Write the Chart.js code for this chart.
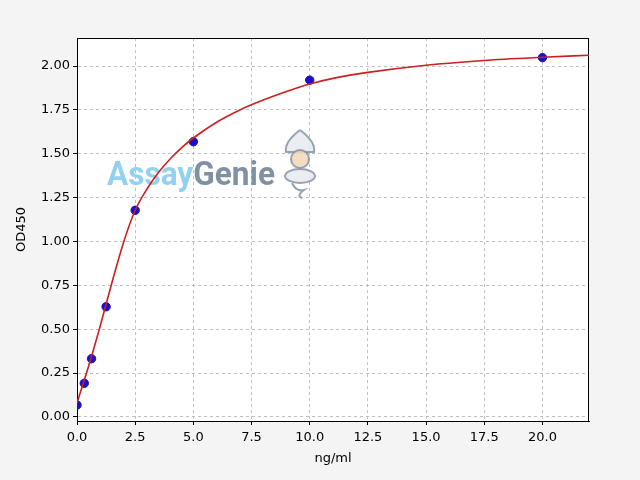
<!DOCTYPE html>
<html>
<head>
<meta charset="utf-8">
<script src="https://cdn.jsdelivr.net/npm/chart.js@4.4.1/dist/chart.umd.min.js"></script>
<style>
  html, body { margin: 0; padding: 0; background: #f4f4f4; }
  #wrap { width: 640px; height: 480px; }
</style>
</head>
<body>
<div id="wrap"><canvas id="myChart" width="640" height="480"></canvas></div>
<script>
// standard points (ng/ml vs OD450)
const concentrations = [0, 0.3125, 0.625, 1.25, 2.5, 5, 10, 20];
const odValues = [0.068, 0.192, 0.332, 0.628, 1.178, 1.569, 1.92, 2.048];

// fitted curve
const curveX = [0, 0.5, 1.0, 1.5, 2.0, 2.5, 3.0, 3.5, 4.0, 4.5, 5.0, 6, 7, 8, 9, 10, 11, 12.5, 15, 17.5, 20, 22];
const curveY = [0.08, 0.29, 0.52, 0.765, 0.995, 1.178, 1.298, 1.393, 1.47, 1.535, 1.59, 1.68, 1.75, 1.806, 1.855, 1.898, 1.93, 1.964, 2.005, 2.032, 2.05, 2.062];

const xTicks = [0, 2.5, 5, 7.5, 10, 12.5, 15, 17.5, 20];
const yTicks = [0, 0.25, 0.5, 0.75, 1.0, 1.25, 1.5, 1.75, 2.0];

const font = { family: 'DejaVu Sans', size: 13 };

const frame = {
    id: 'frame',
    beforeDraw(chart) {
        const { ctx, chartArea: a } = chart;
        ctx.save();
        ctx.fillStyle = '#f4f4f4';
        ctx.fillRect(0, 0, chart.width, chart.height);
        ctx.fillStyle = '#ffffff';
        ctx.fillRect(a.left, a.top, a.right - a.left, a.bottom - a.top);
        ctx.restore();
    },
    beforeDatasetsDraw(chart) {
        const { ctx, chartArea: a } = chart;
        ctx.save();
        // watermark
        ctx.globalAlpha = 0.9;
        ctx.font = 'bold 33px Roboto';
        ctx.textBaseline = 'alphabetic';
        const w1 = ctx.measureText('Assay').width;
        const w2 = ctx.measureText('Genie').width;
        const sx = 168 / (w1 + w2);
        ctx.translate(107, 185);
        ctx.scale(sx, 1);
        ctx.fillStyle = '#86cdee';
        ctx.fillText('Assay', 0, 0);
        ctx.fillStyle = '#72859a';
        ctx.fillText('Genie', w1, 0);
        ctx.restore();

        // small genie figure
        ctx.save();
        ctx.globalAlpha = 0.85;
        ctx.strokeStyle = '#8494a6';
        ctx.lineWidth = 2;
        ctx.fillStyle = '#e6ebf0';
        ctx.beginPath();
        ctx.moveTo(300, 130);
        ctx.quadraticCurveTo(316, 142, 314, 152);
        ctx.lineTo(286, 152);
        ctx.quadraticCurveTo(284, 142, 300, 130);
        ctx.fill(); ctx.stroke();
        ctx.fillStyle = '#f5d6b8';
        ctx.beginPath();
        ctx.arc(300, 159, 9, 0, Math.PI * 2);
        ctx.fill(); ctx.stroke();
        ctx.fillStyle = '#e6ebf0';
        ctx.beginPath();
        ctx.ellipse(300, 176, 15, 7, 0, 0, Math.PI * 2);
        ctx.fill(); ctx.stroke();
        ctx.beginPath();
        ctx.moveTo(292, 183);
        ctx.quadraticCurveTo(296, 192, 304, 190);
        ctx.quadraticCurveTo(296, 196, 302, 198);
        ctx.stroke();
        ctx.restore();

        // axes box
        ctx.save();
        ctx.strokeStyle = '#000';
        ctx.lineWidth = 1;
        ctx.strokeRect(a.left + 0.5, a.top + 0.5, a.right - a.left - 1, a.bottom - a.top);
        ctx.restore();
    }
};

const ctx = document.getElementById('myChart').getContext('2d');
new Chart(ctx, {
    type: 'scatter',
    data: {
        datasets: [{
            type: 'line',
            label: 'fit',
            data: curveX.map((x, i) => ({ x: x, y: curveY[i] })),
            borderColor: '#cc1f1f',
            borderWidth: 1.6,
            pointRadius: 0,
            fill: false,
            cubicInterpolationMode: 'monotone',
            order: 0
        }, {
            label: 'standards',
            data: concentrations.map((x, i) => ({ x: x, y: odValues[i] })),
            backgroundColor: '#1a10c8',
            borderColor: '#1a10c8',
            pointRadius: 4.2,
            order: 1
        }]
    },
    options: {
        responsive: false,
        animation: false,
        devicePixelRatio: 1,
        layout: { padding: { left: 0, top: 38, right: 51, bottom: 0 } },
        plugins: { legend: { display: false }, tooltip: { enabled: false } },
        scales: {
            x: {
                type: 'linear',
                min: 0,
                max: 22,
                afterFit(scale) { scale.height = 59; },
                afterBuildTicks(scale) { scale.ticks = xTicks.map(v => ({ value: v })); },
                ticks: {
                    font: font,
                    color: '#000',
                    padding: 5,
                    maxRotation: 0,
                    callback: v => Number(v).toFixed(1)
                },
                grid: { color: '#b0b0b0', lineWidth: 0.8, tickColor: '#000', tickLength: 4, tickWidth: 1 },
                border: { display: true, color: '#000', width: 1, dash: [3, 3] },
                title: { display: true, text: 'ng/ml', font: font, color: '#000', padding: { top: 14, bottom: 14 } }
            },
            y: {
                type: 'linear',
                min: -0.023,
                max: 2.16,
                afterFit(scale) { scale.width = 77; },
                afterBuildTicks(scale) { scale.ticks = yTicks.map(v => ({ value: v })); },
                ticks: {
                    font: font,
                    color: '#000',
                    padding: 3,
                    callback: v => Number(v).toFixed(2)
                },
                grid: { color: '#b0b0b0', lineWidth: 0.8, tickColor: '#000', tickLength: 4, tickWidth: 1 },
                border: { display: true, color: '#000', width: 1, dash: [3, 3] },
                title: { display: true, text: 'OD450', font: font, color: '#000', padding: { top: 14, bottom: 14 } }
            }
        }
    },
    plugins: [frame]
});
</script>
</body>
</html>
